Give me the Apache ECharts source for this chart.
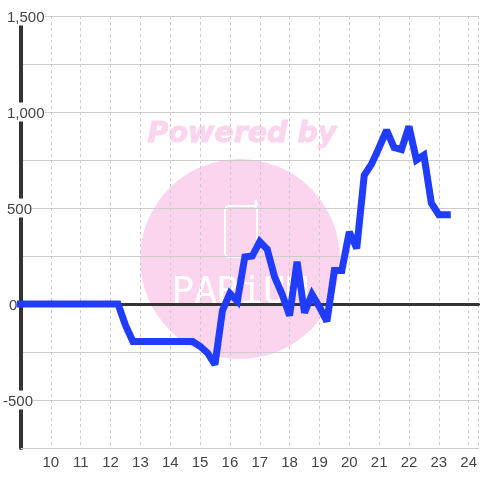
<!DOCTYPE html>
<html>
<head>
<meta charset="utf-8">
<style>html,body{margin:0;padding:0;background:#fff}#c{width:480px;height:480px}</style>
<script src="https://cdn.jsdelivr.net/npm/echarts@6/dist/echarts.min.js"></script>
</head>
<body>
<div id="c"></div>
<script>
const hours = [8.8,9.25,9.5,9.75,10,10.25,10.5,10.75,11,11.25,11.5,11.75,12,12.25,12.5,12.75,13,13.25,13.5,13.75,14,14.25,14.5,14.75,15,15.25,15.5,15.75,16,16.25,16.5,16.75,17,17.25,17.5,17.75,18,18.25,18.5,18.75,19,19.25,19.5,19.75,20,20.25,20.5,20.75,21,21.25,21.5,21.75,22,22.25,22.5,22.75,23,23.4];
const values = [0,0,0,0,0,0,0,0,0,0,0,0,0,0,-110,-195,-195,-195,-195,-195,-195,-195,-195,-195,-220,-255,-315,-35,55,15,245,250,325,285,140,50,-60,220,-45,50,-15,-90,175,175,375,290,670,730,815,905,815,805,925,750,775,525,465,465];
const yLabelText = {'1500':'1,500','1000':'1,000','500':'500','0':'0','-500':'-500'};
const yLabelPad = {'1500':4,'1000':4,'500':4,'0':6,'-500':0};
const xMin = 9, xMax = 24.33;
const pts = hours.map((h,i)=>[h,values[i]]);
const chart = echarts.init(document.getElementById('c'),null,{renderer:'canvas'});
const textStyleBase = {fontFamily:'"Liberation Sans",Arial,sans-serif',fontSize:15,color:'#444'};
const rich = {};
Object.keys(yLabelPad).forEach(k=>{
  rich['p'+k.replace('-','m')] = Object.assign({},textStyleBase,{backgroundColor:'#fff',padding:[4,0,0,yLabelPad[k]],lineHeight:14});
});
chart.setOption({
  animation:false,
  backgroundColor:'#fff',
  grid:{left:20.5,right:0,top:16,bottom:32,containLabel:false},
  graphic:[
    {type:'circle',z:-10,silent:true,shape:{cx:240,cy:259,r:100},style:{fill:'#fbd5ee'}},
    {type:'text',z:-9,silent:true,style:{x:242,y:135,text:'Powered by',align:'center',verticalAlign:'middle',font:'italic bold 28.5px "DejaVu Sans"',fill:'#fbd5ee',stroke:'#fbd5ee',lineWidth:1}},
    {type:'rect',z:-9,silent:true,shape:{x:225,y:206,width:32,height:51,r:4},style:{fill:'none',stroke:'#fff',lineWidth:2}},
    {type:'line',z:-9,silent:true,shape:{x1:256,y1:206,x2:256,y2:201},style:{stroke:'#fff',lineWidth:3,lineCap:'round'}},
    {type:'text',z:-9,silent:true,style:{x:240,y:293,text:'PARiUM',align:'center',verticalAlign:'middle',font:'38px "DejaVu Sans Mono"',fill:'#fff'}}
  ],
  xAxis:[{
    type:'value',min:xMin,max:xMax,interval:1,
    axisLine:{onZero:false,lineStyle:{color:'#ccc',width:1}},
    axisTick:{show:false},
    axisLabel:Object.assign({},textStyleBase,{margin:7,showMaxLabel:false,showMinLabel:false,formatter:v=>Number.isInteger(v)&&v>9?String(v):''}),
    splitLine:{show:true,lineStyle:{color:'#ccc',type:[3,3],width:1}}
  },{
    type:'value',min:xMin,max:xMax,interval:1,position:'bottom',
    axisLine:{onZero:true,lineStyle:{color:'#333',width:3}},
    axisTick:{show:false},axisLabel:{show:false},splitLine:{show:false}
  }],
  yAxis:{
    type:'value',min:-750,max:1500,interval:250,
    axisLine:{show:true,onZero:false,lineStyle:{color:'#333',width:4}},
    axisTick:{show:false},
    axisLabel:{align:'left',margin:18,showMinLabel:true,showMaxLabel:true,hideOverlap:false,
      formatter:v=>{
        const s=yLabelText[String(v)];
        return s?'{p'+String(v).replace('-','m')+'|'+s+'}':'';
      },rich},
    splitLine:{show:true,lineStyle:{color:'#ccc',width:1}}
  },
  series:[{
    type:'line',data:pts,showSymbol:false,smooth:false,clip:false,z:5,
    lineStyle:{color:'#1f3cff',width:7,cap:'butt',join:'miter',miterLimit:2.5}
  }]
});
</script>
</body>
</html>
